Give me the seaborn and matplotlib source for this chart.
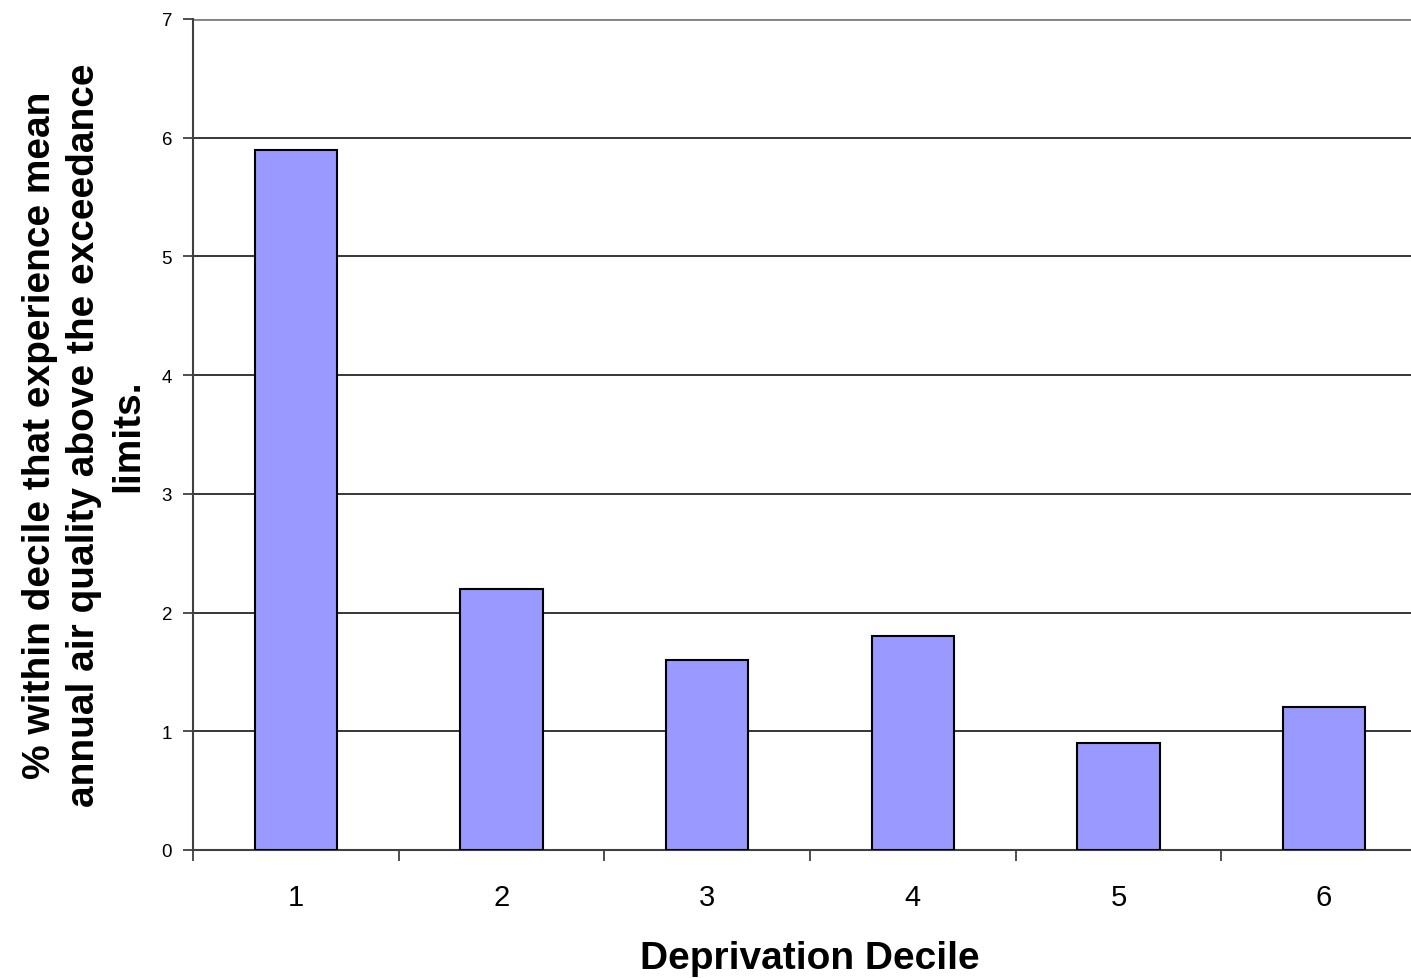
import matplotlib
matplotlib.use("Agg")
import matplotlib.pyplot as plt
import seaborn as sns
import pandas as pd
import numpy as np

deciles = ["1", "2", "3", "4", "5", "6"]
percent_exceeding = [5.9, 2.2, 1.6, 1.8, 0.9, 1.2]
y_ticks = [0, 1, 2, 3, 4, 5, 6, 7]

sns.set_style("white")
plt.rcParams["font.family"] = ["Liberation Sans", "DejaVu Sans"]
plt.rcParams["text.color"] = "black"
plt.rcParams["axes.labelcolor"] = "black"
plt.rcParams["xtick.color"] = "black"
plt.rcParams["ytick.color"] = "black"

df = pd.DataFrame({"decile": deciles, "pct": percent_exceeding})

fig = plt.figure(figsize=(14.11, 9.79), dpi=100)
ax = fig.add_axes([0.1368, 0.1308, 0.8745, 0.8488])

sns.barplot(data=df, x="decile", y="pct", color="#9999FF", saturation=1,
            width=0.4, edgecolor="black", linewidth=1.5, ax=ax, zorder=3)

ax.set_ylim(0, 7)
ax.set_xlim(-0.5, len(deciles) - 0.5)
ax.set_yticks(y_ticks)
ax.set_yticklabels([str(t) for t in y_ticks], fontsize=13.5)

# horizontal gridlines, top one grey
for t in y_ticks[1:-1]:
    ax.axhline(t, color="black", linewidth=1.1, zorder=1)
ax.axhline(7, color="#808080", linewidth=2, zorder=1)

# category labels centred, tick marks at category boundaries
ax.set_xticks(range(len(deciles)))
ax.set_xticklabels(deciles, fontsize=21)
ax.set_xticks(np.arange(-0.5, len(deciles) + 0.5, 1.0), minor=True)
ax.tick_params(axis="x", which="both", bottom=True)
ax.tick_params(axis="x", which="major", length=0, pad=24)
ax.tick_params(axis="x", which="minor", length=8, width=1.3, color="#404040", direction="out")
ax.tick_params(axis="y", which="major", length=7, width=1.3, color="#404040",
               direction="out", pad=8, left=True)

for side in ["top", "right"]:
    ax.spines[side].set_visible(False)
ax.spines["left"].set_color("#404040")
ax.spines["left"].set_linewidth(1.5)
ax.spines["bottom"].set_color("#404040")
ax.spines["bottom"].set_linewidth(1.5)

ax.set_xlabel("Deprivation Decile", fontsize=28, fontweight="bold", labelpad=21)
ax.set_ylabel("% within decile that experience mean\nannual air quality above the exceedance\nlimits.",
              fontsize=28, fontweight="bold", labelpad=11, linespacing=1.29)

fig.savefig("out.png", dpi=100)
